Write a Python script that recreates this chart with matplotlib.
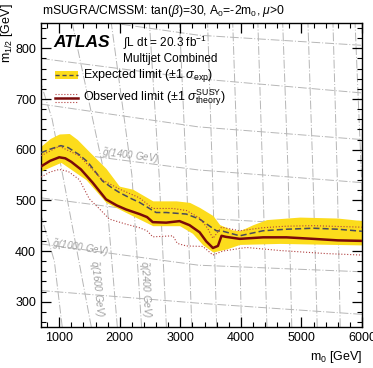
# mSUGRA/CMSSM limit plot (ATLAS multijet)
import numpy as np
import matplotlib
matplotlib.use('Agg')
import matplotlib.pyplot as plt
from matplotlib.patches import Rectangle

plt.rcParams['font.family'] = ['Liberation Sans', 'DejaVu Sans']
plt.rcParams['mathtext.fontset'] = 'custom'
plt.rcParams['mathtext.rm'] = 'Liberation Sans'
plt.rcParams['mathtext.it'] = 'Liberation Sans:italic'
plt.rcParams['mathtext.bf'] = 'Liberation Sans:bold'

# observed limit
obs_m0 = [700, 850, 1000, 1100, 1200, 1359, 1552, 1773, 1950, 2104, 2325, 2450, 2545, 2766,
          2987, 3152, 3318, 3428, 3538, 3621, 3680, 3750, 3980, 4366, 4752, 5194, 5600, 6000]
obs_m12 = [567, 578, 585, 583, 576, 561, 535, 502, 490, 482, 473, 467, 457, 456,
           459, 451, 437, 419, 406, 410, 430, 428, 424, 427, 427, 424, 421, 420]

# observed +- 1 sigma theory
thup_m0 = [700, 1000, 1331, 1717, 2000, 2325, 2545, 2877, 3100, 3318, 3450, 3538, 3680,
           3980, 4366, 4752, 5194, 6000]
thup_m12 = [588, 607, 588, 540, 522, 505, 484, 484, 480, 465, 445, 425, 447,
            440, 446, 449, 450, 447]
thdn_m0 = [700, 850, 1000, 1150, 1331, 1497, 1650, 1828, 2104, 2325, 2450, 2545, 2877,
           2950, 3100, 3373, 3538, 3704, 4091, 4642, 5400, 6000]
thdn_m12 = [546, 556, 561, 557, 541, 503, 485, 463, 453, 446, 440, 428, 430,
            415, 410, 409, 392, 400, 407, 401, 395, 392]

# expected limit
exp_m0 = [700, 850, 1028, 1150, 1331, 1469, 1717, 1880, 2000, 2214, 2325, 2435, 2600,
          2766, 3097, 3318, 3450, 3594, 3704, 3980, 4366, 4752, 5194, 5600, 6000]
exp_m12 = [594, 601, 608, 604, 590, 576, 538, 524, 515, 502, 496, 488, 476,
           476, 473, 463, 452, 440, 439, 430, 440, 443, 445, 443, 439]

# expected +- 1 sigma band
bup_m0 = [700, 850, 1000, 1166, 1300, 1497, 1773, 1993, 2214, 2545, 2932, 3152, 3318,
          3538, 3650, 3850, 3980, 4200, 4424, 4973, 5600, 6000]
bup_m12 = [607, 622, 631, 632, 620, 596, 563, 528, 522, 499, 499, 496, 486,
           470, 452, 442, 440, 452, 462, 467, 465, 460]
bdn_m0 = [700, 1028, 1331, 1442, 1773, 2104, 2545, 2987, 3200, 3373, 3538, 3759, 3980,
          4642, 6000]
bdn_m12 = [558, 575, 550, 541, 496, 476, 450, 450, 435, 412, 398, 404, 413,
           415, 412]

# gluino iso-mass lines (m12 at m0 = 700, 3300, 6000)
gl_m0 = [700, 3300, 6000]
gl_lines = {
    800: [322, 297, 275],
    1000: [414, 372, 359],
    1200: [505, 465, 447],
    1400: [600, 560, 535],
    1600: [690, 645, 620],
    1800: [780, 740, 712],
    2000: [870, 826, 806],
}
# squark iso-mass lines (m0 at m12 = 250, 550, 850)
sq_m12 = [250, 550, 850]
sq_lines = {
    1200: ([1050, 920, 700], [250, 380, 470]),
    1600: ([1530, 1215, 884, 700], [250, 450, 660, 730]),
    2000: ([1960, 1750, 1215], sq_m12),
    2400: ([2360, 2200, 1860], sq_m12),
    2800: ([2770, 2650, 2490], sq_m12),
    3200: ([3190, 3100, 2987], sq_m12),
    3600: ([3600, 3530, 3450], sq_m12),
    4000: ([4010, 3950, 3865], sq_m12),
    4400: ([4430, 4360, 4280], sq_m12),
    4800: ([4840, 4780, 4690], sq_m12),
    5200: ([5260, 5190, 5107], sq_m12),
    5600: ([5640, 5590, 5520], sq_m12),
    6000: ([6060, 5990, 5885], sq_m12),
}

fig = plt.figure(figsize=(3.73, 3.68), dpi=100)
ax = fig.add_axes([0.110, 0.1114, 0.8606, 0.826])

grey = '#b6b6b6'
for m, ys in gl_lines.items():
    ax.plot(gl_m0, ys, color=grey, lw=0.7, ls=(0, (9, 2, 1, 2)), zorder=1)
for m, (xs, ys) in sq_lines.items():
    ax.plot(xs, ys, color=grey, lw=0.7, ls=(0, (9, 2, 1, 2)), zorder=1)

# band: common grid only for the fill
grid = np.linspace(700, 6000, 400)
ax.fill_between(grid, np.interp(grid, bdn_m0, bdn_m12), np.interp(grid, bup_m0, bup_m12),
                color='#fcdc1c', lw=0, zorder=2)
ax.plot(exp_m0, exp_m12, color='#4a4a5a', lw=1.1, ls=(0, (4, 2)), zorder=3)
ax.plot(thup_m0, thup_m12, color='#b04040', lw=0.8, ls=':', zorder=3)
ax.plot(thdn_m0, thdn_m12, color='#b04040', lw=0.8, ls=':', zorder=3)
ax.plot(obs_m0, obs_m12, color='#7a0a0a', lw=1.8, zorder=4)

lab = dict(color='#a0a0a0', fontsize=7, style='italic', zorder=2)
ax.text(1348, 405, r'$\tilde{g}$(1000 GeV)', rotation=-9, ha='center', va='center', **lab)
ax.text(2175, 588, r'$\tilde{g}$(1400 GeV)', rotation=-7, ha='center', va='center', **lab)
ax.text(1613, 325, r'$\tilde{q}$(1600 GeV)', rotation=-84, ha='center', va='center', **lab)
ax.text(2424, 325, r'$\tilde{q}$(2400 GeV)', rotation=-87, ha='center', va='center', **lab)

ax.set_xlim(700, 6000)
ax.set_ylim(250, 850)
ax.set_xticks([1000, 2000, 3000, 4000, 5000, 6000])
ax.set_yticks([300, 400, 500, 600, 700, 800])
ax.set_xticks(np.arange(800, 6001, 200), minor=True)
ax.set_yticks(np.arange(260, 851, 20), minor=True)
ax.tick_params(which='both', direction='in', top=True, right=True, labelsize=9)
ax.tick_params(which='major', length=7, width=0.9)
ax.tick_params(which='minor', length=3.5, width=0.8)
for s in ax.spines.values():
    s.set_linewidth(1.0)
ax.set_xlabel(r'm$_0$ [GeV]', fontsize=9, loc='right')
ax.set_ylabel(r'm$_{1/2}$ [GeV]', fontsize=9, loc='top')
ax.yaxis.set_label_coords(-0.082, 1.065)

fig.text(0.113, 0.970, r'mSUGRA/CMSSM: tan($\beta$)=30, A$_0$=-2m$_0$, $\mu$>0',
         fontsize=8.7, va='center', ha='left')

ax.text(0.037, 0.936, 'ATLAS', transform=ax.transAxes, fontsize=12.5, weight='bold',
        style='italic', va='center', ha='left')
ax.text(0.255, 0.937, r'∫L dt = 20.3 fb$^{-1}$', transform=ax.transAxes, fontsize=8.5,
        va='center', ha='left')
ax.text(0.255, 0.882, 'Multijet Combined', transform=ax.transAxes, fontsize=8.5,
        va='center', ha='left')

# legend
ax.add_patch(Rectangle((0.044, 0.816), 0.071, 0.026, transform=ax.transAxes,
                       color='#fcdc1c', lw=0, zorder=5))
ax.plot([0.044, 0.115], [0.829, 0.829], transform=ax.transAxes, color='#4a4a5a',
        lw=1.0, ls=(0, (3, 2)), zorder=6)
ax.text(0.131, 0.829, r'Expected limit ($\pm$1 $\sigma_{\mathrm{exp}}$)', transform=ax.transAxes,
        fontsize=9, va='center', ha='left')
ax.plot([0.044, 0.115], [0.753, 0.753], transform=ax.transAxes, color='#7a0a0a',
        lw=1.8, zorder=6)
for yy in (0.765, 0.741):
    ax.plot([0.044, 0.115], [yy, yy], transform=ax.transAxes, color='#b04040',
            lw=0.8, ls=':', zorder=6)
ax.text(0.131, 0.753, r'Observed limit ($\pm$1 $\sigma^{\mathrm{SUSY}}_{\mathrm{theory}}$)',
        transform=ax.transAxes, fontsize=9, va='center', ha='left')

fig.savefig('out.png', dpi=100)
